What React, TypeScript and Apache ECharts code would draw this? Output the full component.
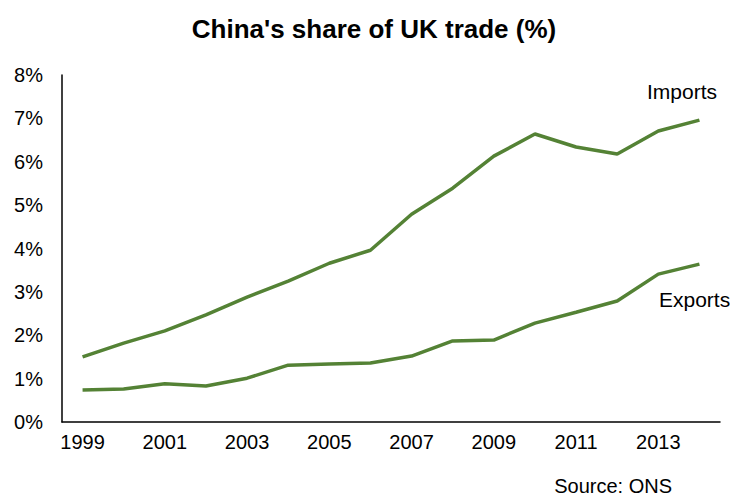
import React, { useEffect, useRef } from "react";
import * as echarts from "echarts";

const years = ["1999","2000","2001","2002","2003","2004","2005","2006","2007","2008","2009","2010","2011","2012","2013","2014"];
const imports = [1.5, 1.82, 2.1, 2.47, 2.88, 3.25, 3.66, 3.96, 4.79, 5.39, 6.13, 6.64, 6.34, 6.18, 6.71, 6.96];
const exportsData = [0.74, 0.76, 0.88, 0.83, 1.01, 1.31, 1.34, 1.36, 1.52, 1.87, 1.89, 2.28, 2.53, 2.79, 3.41, 3.64];
const yTicks = [0, 1, 2, 3, 4, 5, 6, 7, 8];

const FONT = "'Liberation Sans', Arial, sans-serif";
const GREEN = "#548235";

export default function App() {
  const ref = useRef<HTMLDivElement>(null);
  useEffect(() => {
    if (!ref.current) return;
    const chart = echarts.init(ref.current, null, { renderer: "svg" });
    chart.setOption({
      animation: false,
      backgroundColor: "#ffffff",
      grid: { left: 62, right: 10, top: 75, bottom: 75 },
      xAxis: {
        type: "category",
        data: years,
        boundaryGap: true,
        axisLine: { lineStyle: { color: "#000", width: 1.5 } },
        axisTick: { show: false },
        axisLabel: { interval: 1, color: "#000", fontFamily: FONT, fontSize: 20, margin: 10 },
      },
      yAxis: {
        type: "value",
        min: yTicks[0],
        max: yTicks[yTicks.length - 1],
        interval: 1,
        axisLine: { show: true, lineStyle: { color: "#000", width: 1.5 } },
        axisTick: { show: false },
        splitLine: { show: false },
        axisLabel: { formatter: (v: number) => v + "%", color: "#000", fontFamily: FONT, fontSize: 20, margin: 19 },
      },
      series: [
        {
          name: "Imports",
          type: "line",
          data: imports,
          symbol: "none",
          lineStyle: { color: GREEN, width: 3.5 },
        },
        {
          name: "Exports",
          type: "line",
          data: exportsData,
          symbol: "none",
          lineStyle: { color: GREEN, width: 3.5 },
        },
      ],
      graphic: [
        { type: "text", x: 374, y: 29, style: { text: "China's share of UK trade (%)", fontFamily: FONT, fontSize: 26, fontWeight: "bold", fill: "#000", align: "center", verticalAlign: "middle" } },
        { type: "text", x: 647, y: 91, style: { text: "Imports", fontFamily: FONT, fontSize: 21, fill: "#000", align: "left", verticalAlign: "middle" } },
        { type: "text", x: 659, y: 299, style: { text: "Exports", fontFamily: FONT, fontSize: 21, fill: "#000", align: "left", verticalAlign: "middle" } },
        { type: "text", x: 672, y: 486, style: { text: "Source: ONS", fontFamily: FONT, fontSize: 20, fill: "#000", align: "right", verticalAlign: "middle" } },
      ],
    });
    return () => chart.dispose();
  }, []);
  return <div ref={ref} style={{ position: "fixed", left: 0, top: 0, width: 730, height: 497 }} />;
}
